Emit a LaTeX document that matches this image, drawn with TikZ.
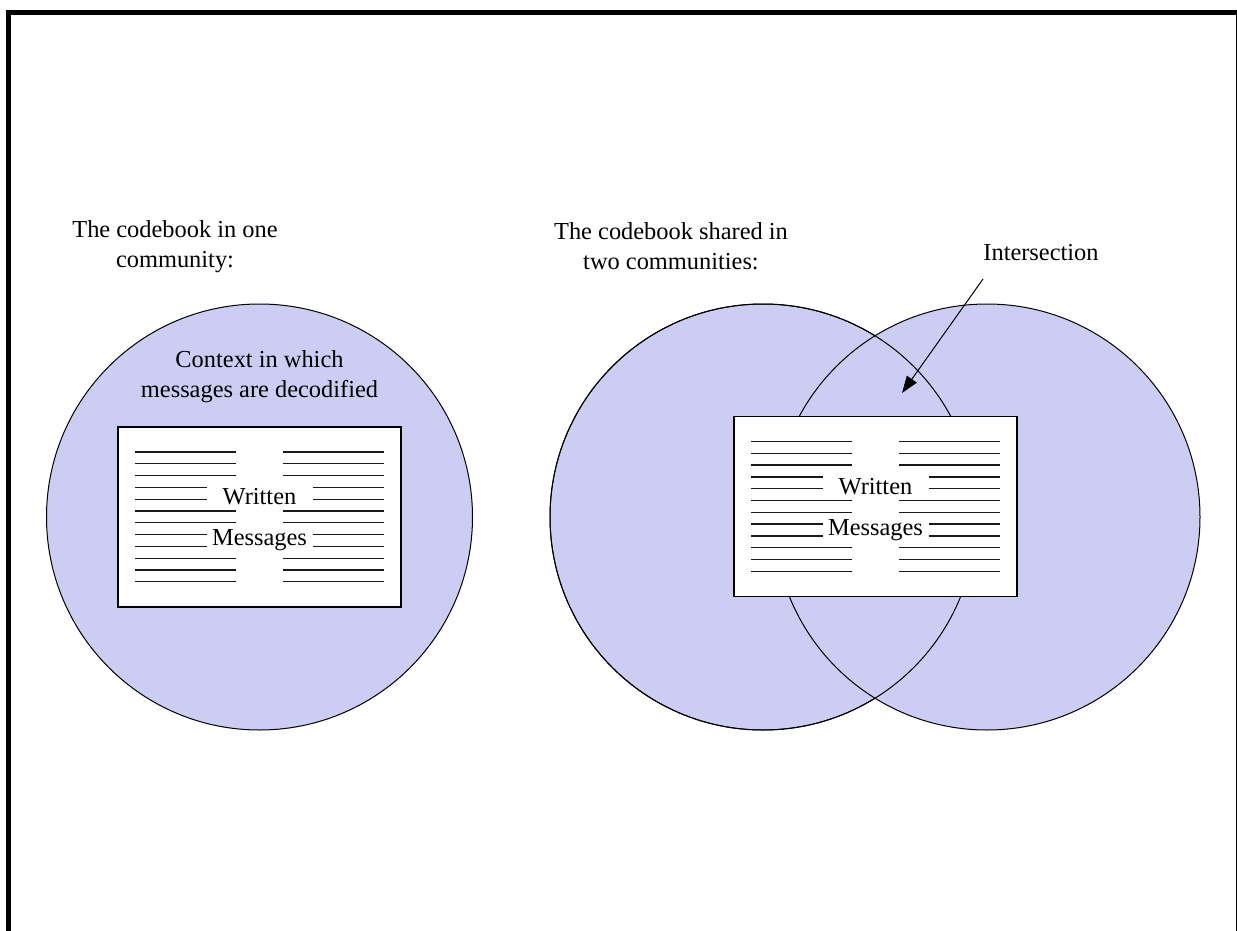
\documentclass[tikz,border=0pt]{standalone}
\usepackage{fontspec}
\setmainfont{Liberation Serif}
\usetikzlibrary{arrows.meta}

\definecolor{codefill}{RGB}{204,205,242}

% ruled lines of a written page, drawn round the centre of a box
\newcommand{\pagelines}[1]{%
  \begin{scope}[shift={(#1.center)}]
    \foreach \k in {0,...,11} {
      \pgfmathsetmacro{\yy}{-65+11.8*\k}
      \ifnum\k=3 \def\inner{53}\else\ifnum\k=4 \def\inner{53}\else
      \ifnum\k=7 \def\inner{53}\else\ifnum\k=8 \def\inner{53}\else
      \def\inner{23.5}\fi\fi\fi\fi
      \draw[textline] (-124.5,\yy) -- (-\inner,\yy);
      \draw[textline] (\inner,\yy) -- (124,\yy);
    }
  \end{scope}
}

\begin{document}
\begin{tikzpicture}[
    x=0.5pt, y=-0.5pt,
    font=\fontsize{12.2}{15}\selectfont,
    community/.style={circle, draw, line width=0.5pt, fill=codefill, minimum size=213pt, inner sep=0pt},
    outline/.style={line width=0.5pt},
    page/.style={rectangle, draw, line width=0.7pt, fill=white, minimum width=141.5pt, minimum height=90pt, inner sep=0pt},
    textline/.style={line width=0.65pt, black!90},
    label/.style={align=center, inner sep=0pt},
    frame/.style={line width=2.5pt},
    pointer/.style={-{Triangle[length=8.5pt,width=6pt]}, line width=0.5pt}
]
\useasboundingbox (0,0) rectangle (1237,931);

% frame
\draw[frame] (8.5,931) -- (8.5,13) -- (1238,13) -- (1238,931);

% One community
\node[community] (one) at (259.5,517) {};
\node[label] (onetitle) at (175,247) {The codebook in one\\community:};
\node[label] (context) at (259.5,377) {Context in which\\messages are decodified};
\node[page] (onepage) at (259.5,517) {};
\pagelines{onepage}
\node[label] (onewritten) at (259.5,497) {Written};
\node[label] (onemessages) at (259.5,540) {Messages};

% Two communities
\node[community] (twoA) at (763,517) {};
\node[community] (twoB) at (987,517) {};
\draw[outline] (twoA.center) circle[radius=106.5pt];
\node[label] (twotitle) at (671,246) {The codebook shared in\\two communities:};
\node[page] (twopage) at (875.5,506.5) {};
\pagelines{twopage}
\node[label] (twowritten) at (875.5,487) {Written};
\node[label] (twomessages) at (875.5,530) {Messages};

% Intersection
\node[label] (inter) at (1041,253) {Intersection};
\coordinate (interfrom) at (983,279);
\coordinate (interto) at (902,393);
\draw[pointer] (interfrom) -- (interto);

\end{tikzpicture}
\end{document}
